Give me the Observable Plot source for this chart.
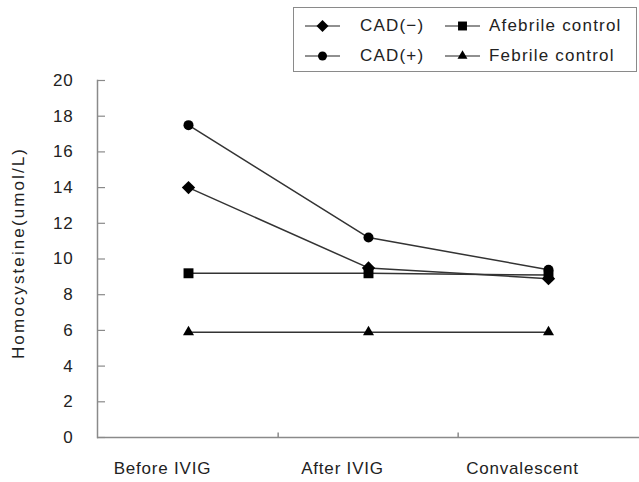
<!DOCTYPE html>
<html>
<head>
<meta charset="utf-8">
<script src="https://cdn.jsdelivr.net/npm/d3@7"></script>
<script src="https://cdn.jsdelivr.net/npm/@observablehq/plot@0.6"></script>
<style>
  body { margin: 0; background: #fff; font-family: "Liberation Sans", Arial, sans-serif; }
  #wrap { position: relative; width: 639px; height: 482px; }
  #legend { position: absolute; left: 293px; top: 7px; width: 344px; height: 65px; box-sizing: border-box;
            border: 1px solid #8a8a8a; background: #fff; font-size: 17px; color: #222; letter-spacing: 1.2px; }
  .item { position: absolute; display: flex; align-items: center; }
</style>
</head>
<body>
<div id="wrap"><div id="legend"></div></div>
<script>
const categories = ["Before IVIG", "After IVIG", "Convalescent"];
const seriesNames = ["CAD(\u2212)", "CAD(+)", "Afebrile control", "Febrile control"];
const cadNeg   = [14.0, 9.5, 8.9];
const cadPos   = [17.5, 11.2, 9.4];
const afebrile = [9.2, 9.2, 9.1];
const febrile  = [5.9, 5.9, 5.9];
const yTicks = [0, 2, 4, 6, 8, 10, 12, 14, 16, 18, 20];
const yTitle = "Homocysteine(umol/L)";

const symbols = {"CAD(\u2212)": "diamond2", "CAD(+)": "circle", "Afebrile control": "square", "Febrile control": "triangle"};
const radii   = {"CAD(\u2212)": 6, "CAD(+)": 5, "Afebrile control": 5.6, "Febrile control": 4.1};

const valuesBySeries = [cadNeg, cadPos, afebrile, febrile];
const data = [];
seriesNames.forEach((s, i) => categories.forEach((c, j) => data.push({series: s, cat: c, value: valuesBySeries[i][j]})));

const font = "\"Liberation Sans\", Arial, sans-serif";

const marks = [
  Plot.ruleY([0], {stroke: "#8a8a8a", strokeWidth: 1.5}),
  Plot.frame({anchor: "left", stroke: "#8a8a8a", strokeWidth: 1.5}),
  Plot.axisY(yTicks, {tickSize: 0, tickPadding: 24, fontSize: 17, fill: "#222", label: null}),
  Plot.axisY(yTicks, {tickSize: -8, text: null, stroke: "#8a8a8a", strokeWidth: 1.2, label: null}),
  Plot.axisX({tickSize: 0, tickPadding: 24, fontSize: 17, fill: "#222", dx: -26, label: null}),
  Plot.ruleX(categories.slice(1), {y1: 0, y2: 0.25, dx: -(639 - 97) / 6, stroke: "#8a8a8a", strokeWidth: 1.5}),
  Plot.text([yTitle], {frameAnchor: "left", textAnchor: "middle", rotate: -90, dx: -79, dy: -6, fontSize: 17, fill: "#222"}),
  Plot.line(data, {x: "cat", y: "value", z: "series", stroke: "#333", strokeWidth: 1.5})
];
for (const s of seriesNames) {
  marks.push(Plot.dot(data.filter(d => d.series === s), {x: "cat", y: "value", symbol: () => symbols[s], r: radii[s], fill: "#000", stroke: "none"}));
}

const chart = Plot.plot({
  width: 639,
  height: 482,
  marginLeft: 97,
  marginRight: 0,
  marginTop: 80,
  marginBottom: 45,
  style: {fontFamily: font, fontSize: "17px", color: "#222", background: "#fff", letterSpacing: "0.8px"},
  x: {type: "band", domain: categories, padding: 0, axis: null},
  y: {domain: [0, 20], axis: null},
  symbol: {type: "identity"},
  marks
});
document.getElementById("wrap").prepend(chart);
d3.select(chart).selectAll("text").filter(function() { return this.textContent === yTitle; })
  .style("letter-spacing", "2.1px");

// Legend
const legend = d3.select("#legend");
const layout = [
  {name: seriesNames[0], left: 11, top: 18, gap: 20},
  {name: seriesNames[2], left: 151, top: 18, gap: 9},
  {name: seriesNames[1], left: 11, top: 48, gap: 20},
  {name: seriesNames[3], left: 151, top: 48, gap: 9}
];
const symType = {"diamond2": d3.symbolDiamond2, "circle": d3.symbolCircle, "square": d3.symbolSquare, "triangle": d3.symbolTriangle};
for (const it of layout) {
  const div = legend.append("div").attr("class", "item").style("left", it.left + "px").style("top", (it.top - 10) + "px").style("height", "20px");
  const svg = div.append("svg").attr("width", 35).attr("height", 16).style("margin-right", it.gap + "px");
  svg.append("line").attr("x1", 0).attr("x2", 35).attr("y1", 8).attr("y2", 8).attr("stroke", "#222").attr("stroke-width", 1.2);
  const r = radii[it.name] * 0.9;
  svg.append("path").attr("transform", "translate(17.5,8)")
    .attr("d", d3.symbol(symType[symbols[it.name]], Math.PI * r * r)())
    .attr("fill", "#000");
  div.append("span").text(it.name);
}
</script>
</body>
</html>
